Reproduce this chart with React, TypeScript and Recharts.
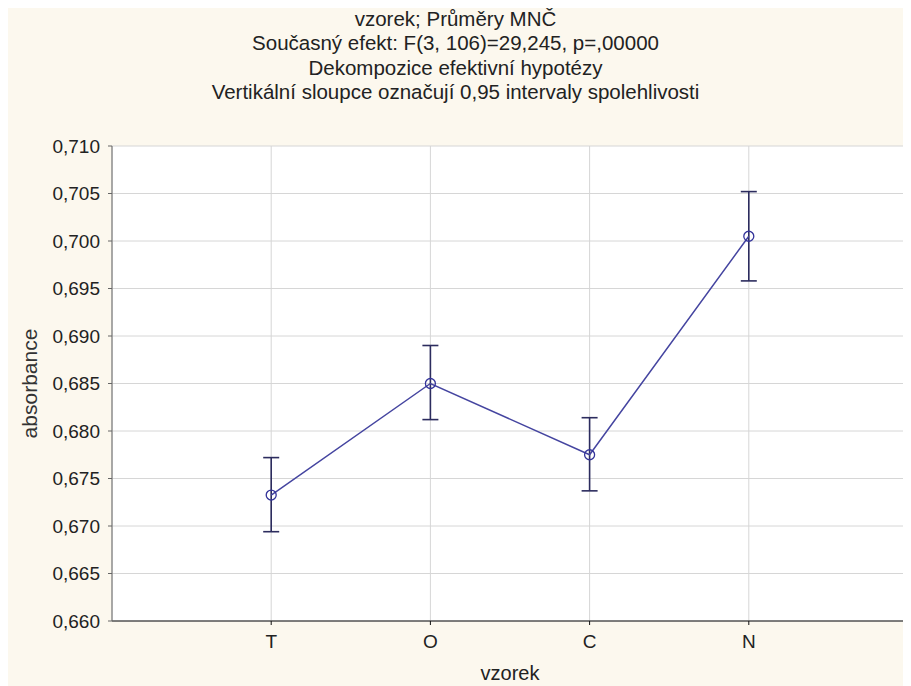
import React from 'react';
import {
  ComposedChart, Line, XAxis, YAxis, CartesianGrid, ErrorBar,
} from 'recharts';

const categories = ['T', 'O', 'C', 'N'];
const means = [0.67326, 0.6850, 0.6775, 0.7005];
const lowerCI = [0.6694, 0.6812, 0.6737, 0.6958];
const upperCI = [0.6772, 0.6890, 0.6814, 0.7052];
const yTicks = [0.66, 0.665, 0.67, 0.675, 0.68, 0.685, 0.69, 0.695, 0.7, 0.705, 0.71];
const titleLines = [
  'vzorek; Průměry MNČ',
  'Současný efekt: F(3, 106)=29,245, p=,00000',
  'Dekompozice efektivní hypotézy',
  'Vertikální sloupce označují 0,95 intervaly spolehlivosti',
];

const data = categories.map((c, i) => ({
  pos: i + 1,
  name: c,
  mean: means[i],
  err: [means[i] - lowerCI[i], upperCI[i] - means[i]],
}));

const FONT = '"Liberation Sans", Arial, sans-serif';
const W = 903;
const H = 678;

const fmtY = (v: number) => v.toFixed(3).replace('.', ',');
const fmtX = (v: number) => categories[v - 1] ?? '';

const Dot = (props: any) => {
  const { cx, cy } = props;
  if (cx == null || cy == null) return null;
  return <circle cx={cx} cy={cy} r={5} fill="none" stroke="#33339a" strokeWidth={1.3} />;
};

export default function App() {
  return (
    <div style={{ position: 'relative', width: W, height: H, background: '#fcf8ee', overflow: 'hidden', fontFamily: FONT }}>
      <div style={{ position: 'absolute', left: 0, top: 0 }}>
        <ComposedChart
          width={W}
          height={H}
          data={data}
          margin={{ top: 138, right: 3, left: 0, bottom: 0 }}
        >
          <CartesianGrid
            xAxisId="b"
            yAxisId="l"
            stroke="#d6d6d6"
            strokeWidth={1}
            fill="#ffffff"
            fillOpacity={1}
          />
          <XAxis
            type="number"
            dataKey="pos"
            xAxisId="b"
            domain={[0, 5]}
            ticks={[1, 2, 3, 4]}
            tickFormatter={fmtX}
            height={65}
            tickSize={4}
            tickMargin={10}
            stroke="#111"
            tick={{ fill: '#222', fontSize: 19, fontFamily: FONT }}
            label={{ value: 'vzorek', position: 'insideBottom', offset: 6, fill: '#222', fontSize: 20, fontFamily: FONT }}
          />
          <XAxis
            type="number"
            dataKey="pos"
            xAxisId="t"
            orientation="top"
            domain={[0, 5]}
            ticks={[1, 2, 3, 4]}
            height={0}
            tick={false}
            tickLine={false}
            stroke="#111"
          />
          <YAxis
            yAxisId="l"
            type="number"
            domain={[0.66, 0.71]}
            ticks={yTicks}
            tickFormatter={fmtY}
            width={104}
            tickSize={4}
            tickMargin={8}
            stroke="#666"
            tick={{ fill: '#222', fontSize: 19, fontFamily: FONT }}
            label={{ value: 'absorbance', angle: -90, position: 'insideLeft', offset: 22, style: { textAnchor: 'middle' }, fill: '#333', fontSize: 21, fontFamily: FONT }}
          />
          <YAxis
            yAxisId="r"
            orientation="right"
            type="number"
            domain={[0.66, 0.71]}
            ticks={yTicks}
            width={0}
            mirror
            tickSize={7}
            tick={false}
            stroke="#111"
          />
          <Line
            xAxisId="b"
            yAxisId="l"
            type="linear"
            dataKey="mean"
            stroke="#4545a0"
            strokeWidth={1.5}
            dot={<Dot />}
            activeDot={false}
            isAnimationActive={false}
          >
            <ErrorBar dataKey="err" width={8} stroke="#2c2c5e" strokeWidth={1.6} direction="y" />
          </Line>
        </ComposedChart>
      </div>
      {titleLines.map((t, i) => (
        <div
          key={i}
          style={{
            position: 'absolute', left: -8, width: 911, top: 1 + i * 24.3,
            height: 20, lineHeight: '20px', textAlign: 'center', fontSize: 20.5, color: '#222',
            whiteSpace: 'nowrap',
          }}
        >
          {t}
        </div>
      ))}
    </div>
  );
}
